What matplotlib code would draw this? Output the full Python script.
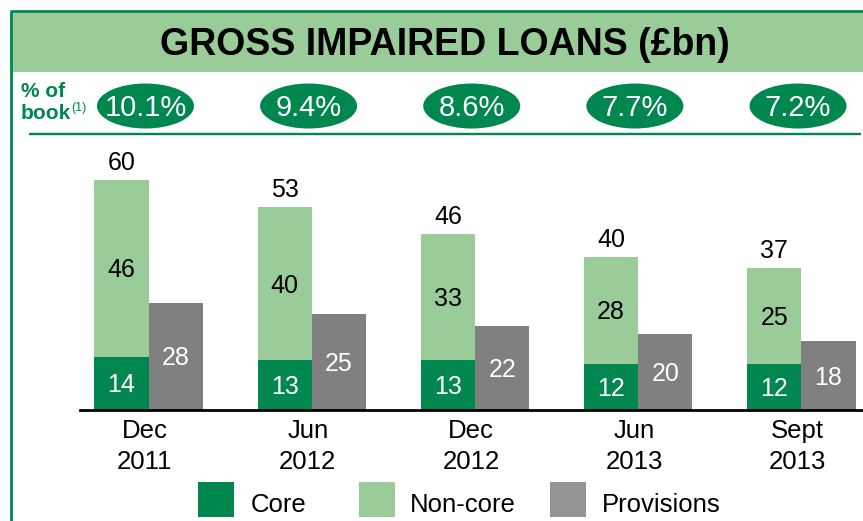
import matplotlib
matplotlib.use("Agg")
import matplotlib.pyplot as plt
import matplotlib.transforms as mtransforms
from matplotlib.patches import Ellipse, Rectangle
import numpy as np

plt.rcParams['font.family'] = ['Liberation Sans', 'DejaVu Sans']

# ---- data ----
periods = ["Dec\n2011", "Jun\n2012", "Dec\n2012", "Jun\n2013", "Sept\n2013"]
core = [14, 13, 13, 12, 12]
non_core = [46, 40, 33, 28, 25]
totals = [60, 53, 46, 40, 37]
provisions = [28, 25, 22, 20, 18]
pct_of_book = ["10.1%", "9.4%", "8.6%", "7.7%", "7.2%"]
legend_labels = ["Core", "Non-core", "Provisions"]
title = "GROSS IMPAIRED LOANS (£bn)"

# ---- styles ----
GREEN = "#00874F"
LIGHT = "#99CC99"
GREY = "#808080"
GREY_LEG = "#959595"

W, H = 863, 521
fig = plt.figure(figsize=(W / 100, H / 100), dpi=100)
fig.patch.set_facecolor("white")

# overlay axes in pixel coordinates (y downward)
ov = fig.add_axes([0, 0, 1, 1])
ov.set_xlim(0, W)
ov.set_ylim(H, 0)
ov.axis("off")

# main bar axes
base_px = 410.3
top_px = 140
px_per_unit = 3.833
group_px = 163.15
first_px = 148.7
left_px = 80
ax = fig.add_axes([left_px / W, (H - base_px) / H, (W - left_px) / W, (base_px - top_px) / H])
ax.set_facecolor("none")
ax.set_xlim((left_px - first_px) / group_px, (W - first_px) / group_px)
ax.set_ylim(0, (base_px - top_px) / px_per_unit)

x = np.arange(len(periods))
w = 54.3 / group_px
core_a = np.array(core)
non_a = np.array(non_core)
prov_a = np.array(provisions)

ax.bar(x - w / 2, core_a, w, color=GREEN, linewidth=0)
ax.bar(x - w / 2, non_a, w, bottom=core_a, color=LIGHT, linewidth=0)
ax.bar(x + w / 2, prov_a, w, color=GREY, linewidth=0)

for s in ["left", "right", "top"]:
    ax.spines[s].set_visible(False)
ax.spines["bottom"].set_linewidth(2.0)
ax.spines["bottom"].set_color("black")
ax.set_yticks([])
ax.set_xticks(x - 0.025, periods, fontsize=18.5, linespacing=1.33)
ax.tick_params(axis="x", length=0, pad=6.5)

lab_fs = 18
for i in range(len(periods)):
    ax.annotate(str(totals[i]), (x[i] - w / 2, core[i] + non_core[i]), xytext=(0, 7.5),
                textcoords="offset points", ha="center", va="baseline", fontsize=lab_fs, color="black")
    ax.annotate(str(non_core[i]), (x[i] - w / 2, core[i] + non_core[i] / 2), xytext=(0, -6.3),
                textcoords="offset points", ha="center", va="baseline", fontsize=lab_fs, color="black")
    ax.annotate(str(core[i]), (x[i] - w / 2, core[i] / 2), xytext=(0, -6.3),
                textcoords="offset points", ha="center", va="baseline", fontsize=lab_fs, color="white")
    ax.annotate(str(provisions[i]), (x[i] + w / 2, provisions[i] / 2), xytext=(0, -6.3),
                textcoords="offset points", ha="center", va="baseline", fontsize=lab_fs, color="white")

# ---- header: borders and title band ----
ov.add_patch(Rectangle((12, 12.5), W - 12, 59.5, facecolor=LIGHT, edgecolor="none"))
ov.plot([10.7, W], [11.3, 11.3], color=GREEN, lw=2.0, solid_capstyle="butt")
ov.plot([10.7, 10.7], [10.3, H], color=GREEN, lw=2.0, solid_capstyle="butt")
ov.text(445, 55, title, fontsize=27, fontweight="bold", ha="center", va="baseline", color="black")

# % of book row
ov.text(21, 97, "% of", fontsize=15, fontweight="bold", color=GREEN, ha="left", va="baseline")
ov.text(21, 119, "book", fontsize=15, fontweight="bold", color=GREEN, ha="left", va="baseline")
ov.text(71.5, 111.5, "(1)", fontsize=9, color=GREEN, ha="left", va="baseline")

trans = mtransforms.blended_transform_factory(ax.transData, ov.transData)
for i, p in enumerate(pct_of_book):
    cx = x[i] - 0.02
    ov.add_patch(Ellipse((cx, 106), 97 / group_px, 45, transform=trans,
                         facecolor=GREEN, edgecolor="none", clip_on=False))
    ov.text(cx, 116.5, p, transform=trans, fontsize=21, color="white",
            ha="center", va="baseline", clip_on=False)

ov.plot([29, 861], [134, 134], color=GREEN, lw=1.7, solid_capstyle="butt")

# ---- legend ----
leg_colors = [GREEN, LIGHT, GREY_LEG]
sq_x = [198.3, 359, 550]
txt_x = [251, 410, 601.5]
for c, sx, tx, lab in zip(leg_colors, sq_x, txt_x, legend_labels):
    ov.add_patch(Rectangle((sx, 481.7), 35.5, 35, facecolor=c, edgecolor="none"))
    ov.text(tx, 512.3, lab, fontsize=18.5, color="black", ha="left", va="baseline")

fig.savefig("out.png", dpi=100)
